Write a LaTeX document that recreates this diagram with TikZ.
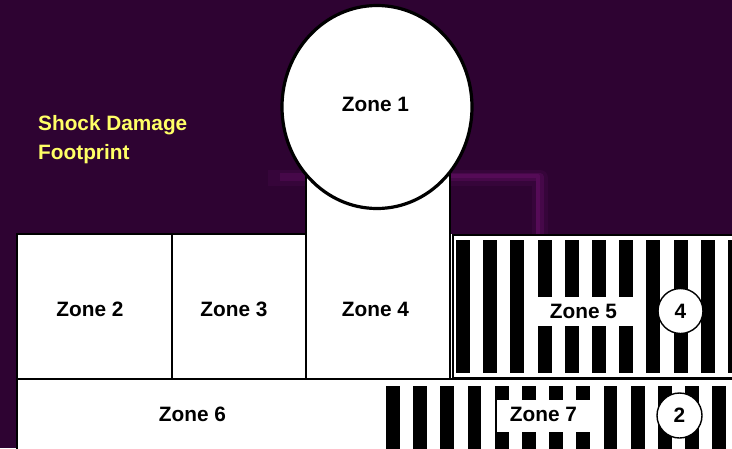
\documentclass[tikz,border=0pt]{standalone}
\usepackage{fontspec}
\setmainfont{Liberation Sans}
\definecolor{bgpurple}{RGB}{46,3,50}
\definecolor{glow}{RGB}{120,20,120}
\definecolor{labelyellow}{RGB}{255,255,102}
\tikzset{
  zonetext/.style={inner sep=0pt, font=\fontsize{20.8}{24}\selectfont\bfseries, text=black},
  stripe/.style={fill=black},
  frameline/.style={draw=black, line width=2.2pt},
  labelbox/.style={fill=white},
  numcircle/.style={circle, draw=black, line width=1.4pt, fill=white, minimum size=45pt, inner sep=0pt, font=\fontsize{20.8}{24}\selectfont\bfseries}
}
\begin{document}
\begin{tikzpicture}[x=1pt,y=-1pt]
\useasboundingbox (0,0) rectangle (732,448);
% background
\fill[bgpurple] (0,0) rectangle (732,448);
\draw[glow, line width=16pt, opacity=0.12, line join=round] (268,178) -- (540,178) -- (540,236);
\draw[glow, line width=8pt, opacity=0.25, line join=round] (280,177) -- (540,177) -- (540,236);
\draw[glow, line width=4pt, opacity=0.3, line join=round] (420,176) -- (538,176) -- (538,236);
% lower white area
\fill[white] (17,234) rectangle (740,455);
% zone 4 column
\filldraw[fill=white, frameline] (306,170) rectangle (450,379);
% outer frame and dividers
\draw[frameline] (17,455) -- (17,234) -- (306,234);
\draw[frameline] (172,234) -- (172,379);
\draw[frameline] (17,379) -- (740,379);
% zone 5 stripes
\foreach \k in {0,...,10} {
  \fill[stripe] ({456+27.2*\k},240) rectangle +(14,133);
}
\draw[draw=black, line width=1.8pt] (452.8,235) rectangle (745,378);
% zone 7 stripes
\foreach \k in {0,...,12} {
  \fill[stripe] ({386+27.2*\k},386) rectangle +(13.7,70);
}
% label backgrounds
\fill[labelbox] (533,297) rectangle (641,326);
\fill[labelbox] (497,400) rectangle (596,432);
% zone 1 circle
\filldraw[fill=white, draw=black, line width=3.2pt] (377,107) ellipse [x radius=95, y radius=101.5];
% texts
\node[zonetext] (z1) at (375.5,104) {Zone 1};
\node[zonetext] (z2) at (90,309) {Zone 2};
\node[zonetext] (z3) at (234,309) {Zone 3};
\node[zonetext] (z4) at (375.5,309) {Zone 4};
\node[zonetext] (z5) at (583.5,311.5) {Zone 5};
\node[zonetext] (z6) at (192.5,414.5) {Zone 6};
\node[zonetext] (z7) at (543.5,414) {Zone 7};
\node[numcircle] (c4) at (680.5,311) {4};
\node[numcircle] (c2) at (679.5,415.5) {2};
\node[inner sep=0pt, anchor=north west, align=left, text=labelyellow,
      font=\fontsize{20.8}{29}\selectfont\bfseries] (title) at (38,115.5) {Shock Damage\\Footprint};
\end{tikzpicture}
\end{document}
